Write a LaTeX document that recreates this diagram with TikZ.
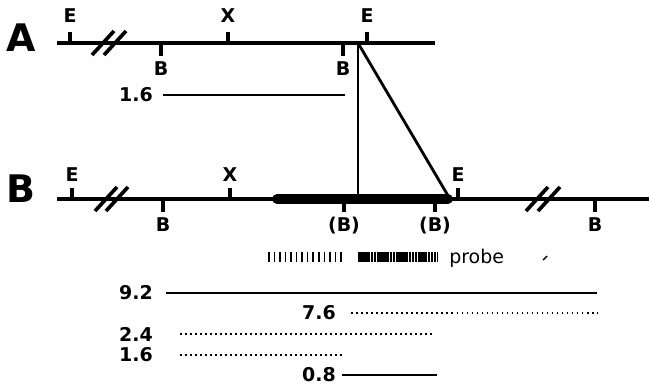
\documentclass[tikz,border=0pt]{standalone}
\usepackage{fontspec}
\setmainfont{DejaVu Sans}
\usetikzlibrary{positioning, calc}

\begin{document}
\begin{tikzpicture}[
  x=0.025cm, y=-0.025cm,
  font=\bfseries\fontsize{13.5}{15}\selectfont,
  mapline/.style={line width=2.7pt},
  sitetick/.style={line width=2.7pt},
  sitelabel/.style={inner sep=0pt, anchor=base},
  bigletter/.style={inner sep=0pt, font=\bfseries\fontsize{27}{30}\selectfont},
  breakmark/.style={line width=2.6pt},
  fraglabel/.style={inner sep=0pt, anchor=east},
  fragline/.style={line width=1.6pt},
  fragdots/.style={line width=1.6pt, dash pattern=on 1.4pt off 2.1565pt},
]
\useasboundingbox (0,0) rectangle (649,387);

% ---- 1. map A ----
\pgfmathsetmacro{\yA}{43}
\node[bigletter] (lblA) at (21,38) {A};
\draw[mapline] (57,\yA) coordinate (aL) -- (435,\yA) coordinate (aR);

\foreach \x/\lab [count=\i] in {70/E, 228/X, 367/E} {
  \draw[sitetick] (\x,\yA) -- (\x,\yA-11) coordinate (aUp\i);
  \node[sitelabel] (aUpLbl\i) at ($(aUp\i)+(0,-9)$) {\lab};
}
\foreach \x/\lab [count=\i] in {161/B, 343/B} {
  \draw[sitetick] (\x,\yA) -- (\x,\yA+13) coordinate (aDn\i);
  \node[sitelabel] (aDnLbl\i) at ($(aDn\i)+(0,19)$) {\lab};
}

% break marks
\foreach \x in {103, 115}
  \draw[breakmark] (\x,\yA) ++(-11,12) -- ++(22,-24);

% fragment under A
\node[fraglabel] (aFragLbl) at (153,95) {1.6};
\coordinate (aFragR) at (345,95);
\draw[fragline] ([xshift=7]aFragLbl.east) -- (aFragR);

% ---- 2. map B ----
\pgfmathsetmacro{\yB}{199}
\node[bigletter] (lblB) at (21,189) {B};
\draw[mapline] (57,\yB) coordinate (bL) -- (649,\yB) coordinate (bR);

% inserted piece (thick)
\draw[line width=7pt, line cap=round] (277,\yB) coordinate (insL) -- (448,\yB) coordinate (insR);

\foreach \x/\lab [count=\i] in {72/E, 230/X, 458/E} {
  \draw[sitetick] (\x,\yB) -- (\x,\yB-11) coordinate (bUp\i);
  \node[sitelabel] (bUpLbl\i) at ($(bUp\i)+(0,-7)$) {\lab};
}
\foreach \x/\lab [count=\i] in {163/B, 344/(B), 435/(B), 595/B} {
  \draw[sitetick] (\x,\yB) -- (\x,\yB+13) coordinate (bDn\i);
  \node[sitelabel] (bDnLbl\i) at ($(bDn\i)+(0,19)$) {\lab};
}

\foreach \x in {106, 117, 537, 549}
  \draw[breakmark] (\x,\yB) ++(-11,12) -- ++(22,-24);

% ---- 3. integration lines A -> B ----
\coordinate (aJunc) at (358,\yA);
\coordinate (bVert) at (358,\yB);
\coordinate (bDiag) at (450,\yB);
\draw[line width=1.6pt] (aJunc) -- (bVert);
\draw[line width=2pt] (aJunc) -- (bDiag);

% ---- 4. probe ----
\draw[line width=7pt, dash pattern=on 1.1pt off 2.85pt] (268,257) coordinate (prL) -- (342,257);
\draw[line width=7pt, dash pattern=on 1.8pt off 0.45pt] (358,257) -- (438,257) coordinate (prR);
\node[inner sep=0pt, anchor=base west, font=\fontsize{13.5}{15}\selectfont] (probeLbl) at (449,263) {probe};
\draw[line width=1pt] (543,260) -- (547,256);

% ---- 5. fragments ----
\node[fraglabel] (f92) at (153,293) {9.2};
\node[fraglabel] (f76) at (336,313) {7.6};
\node[fraglabel] (f24) at (153,334) {2.4};
\node[fraglabel] (f16) at (153,355) {1.6};
\node[fraglabel] (f08) at (336,375) {0.8};

\coordinate (e92) at (597,293);
\coordinate (e76) at (597,313);
\coordinate (e24) at (432,334);
\coordinate (e16) at (342,355);
\coordinate (e08) at (437,375);

\draw[fragline] ([xshift=9]f92.east) -- (e92);
\draw[fragdots] ([xshift=11]f76.east) -- (e76);
\draw[fragdots] ([xshift=19]f24.east) -- (e24);
\draw[fragdots] ([xshift=19]f16.east) -- (e16);
\draw[fragline] ([xshift=4]f08.east) -- (e08);

\end{tikzpicture}
\end{document}
